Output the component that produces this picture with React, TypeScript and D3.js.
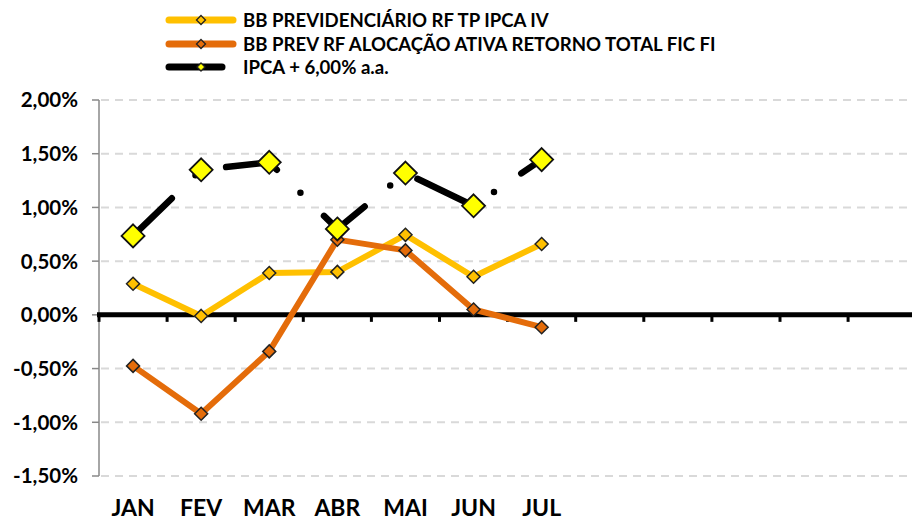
import React from "react";
import * as d3 from "d3";

const monthLabels = ["JAN", "FEV", "MAR", "ABR", "MAI", "JUN", "JUL", "", "", "", "", ""];
const seriesNames = [
  "BB PREVIDENCIÁRIO RF TP IPCA IV",
  "BB PREV RF ALOCAÇÃO ATIVA RETORNO TOTAL FIC FI",
  "IPCA + 6,00% a.a.",
];
const prevIpca = [0.29, -0.01, 0.39, 0.40, 0.745, 0.355, 0.66];
const prevAloc = [-0.475, -0.92, -0.34, 0.70, 0.60, 0.05, -0.115];
const ipcaMeta = [0.735, 1.35, 1.42, 0.80, 1.32, 1.015, 1.445];
const yTicks = [-1.5, -1.0, -0.5, 0, 0.5, 1.0, 1.5, 2.0];

const W = 912;
const H = 521;
const FONT = "Lato, 'Open Sans', sans-serif";

export default function App() {
  const x = d3
    .scaleBand<number>()
    .domain(d3.range(monthLabels.length))
    .range([99, 99 + 68.1 * monthLabels.length]);
  const y = d3.scaleLinear().domain([-1.5, 2]).range([476, 100]);
  const cx = (i: number) => (x(i) as number) + x.bandwidth() / 2;
  const line = d3
    .line<number>()
    .x((_, i) => cx(i))
    .y((d) => y(d));
  const fmt = (v: number) => v.toFixed(2).replace(".", ",") + "%";
  const diamond = (px: number, py: number, r: number) =>
    `M${px},${py - r}L${px + r},${py}L${px},${py + r}L${px - r},${py}Z`;

  const yellow = "#FFC000";
  const orange = "#E46C0A";
  const legendRows = [
    { name: seriesNames[0], color: yellow, fill: yellow, y: 20, x2: 236, mr: 4.5 },
    { name: seriesNames[1], color: orange, fill: orange, y: 44, x2: 236, mr: 4.5 },
    { name: seriesNames[2], color: "#000", fill: "#FFFF00", y: 67, x2: 225, mr: 4 },
  ];

  return (
    <svg
      width={W}
      height={H}
      style={{ position: "absolute", left: 0, top: 0, background: "#fff" }}
      fontFamily={FONT}
    >
      <rect width={W} height={H} fill="#fff" />
      {/* gridlines */}
      {yTicks
        .filter((t) => t !== 0)
        .map((t) => (
          <line
            key={"g" + t}
            x1={101}
            x2={W}
            y1={y(t)}
            y2={y(t)}
            stroke="#D9D9D9"
            strokeWidth={2}
            strokeDasharray="8 6"
          />
        ))}
      {/* y axis */}
      <line x1={99} x2={99} y1={y(2)} y2={y(-1.5)} stroke="#888" strokeWidth={1.5} />
      {yTicks.map((t) => (
        <g key={"t" + t}>
          <line x1={92} x2={99} y1={y(t)} y2={y(t)} stroke="#888" strokeWidth={1.5} />
          <text
            x={78}
            y={y(t)}
            dy="0.36em"
            textAnchor="end"
            fontSize={20.5}
            fontWeight={700}
            fill="#000"
          >
            {fmt(t)}
          </text>
        </g>
      ))}
      {/* x axis at zero */}
      <line x1={97} x2={W} y1={y(0)} y2={y(0)} stroke="#000" strokeWidth={5} />
      {d3.range(monthLabels.length + 1).map((i) => {
        const xx = i < monthLabels.length ? (x(i) as number) : x.range()[1];
        return (
          <line
            key={"xt" + i}
            x1={xx}
            x2={xx}
            y1={y(0)}
            y2={y(0) + 7}
            stroke="#000"
            strokeWidth={3}
          />
        );
      })}
      {monthLabels.map((m, i) =>
        m ? (
          <text
            key={"m" + i}
            x={cx(i)}
            y={516}
            textAnchor="middle"
            fontSize={23}
            fontWeight={700}
            fill="#000"
          >
            {m}
          </text>
        ) : null
      )}
      {/* series lines */}
      <path d={line(prevIpca) || ""} fill="none" stroke={yellow} strokeWidth={6} strokeLinejoin="round" />
      <path d={line(prevAloc) || ""} fill="none" stroke={orange} strokeWidth={6} strokeLinejoin="round" />
      {prevIpca.map((v, i) => (
        <path key={"py" + i} d={diamond(cx(i), y(v), 6.5)} fill={yellow} stroke="#222" strokeWidth={1.5} />
      ))}
      {prevAloc.map((v, i) => (
        <path key={"pa" + i} d={diamond(cx(i), y(v), 6.5)} fill={orange} stroke="#222" strokeWidth={1.5} />
      ))}
      <path
        d={line(ipcaMeta) || ""}
        fill="none"
        stroke="#000"
        strokeWidth={6.5}
        strokeLinecap="round"
        strokeLinejoin="round"
        strokeDasharray="54 33 0 33"
      />
      {ipcaMeta.map((v, i) => (
        <path key={"pi" + i} d={diamond(cx(i), y(v), 11.5)} fill="#FFFF00" stroke="#111" strokeWidth={1.8} />
      ))}
      {/* legend */}
      {legendRows.map((r) => (
        <g key={r.name}>
          <line x1={169} x2={r.x2 - 3} y1={r.y} y2={r.y} stroke={r.color} strokeWidth={7} strokeLinecap="round" />
          <path d={diamond(201, r.y, r.mr)} fill={r.fill} stroke="#222" strokeWidth={1.3} />
          <text x={243} y={r.y} dy="0.36em" fontSize={18.6} fontWeight={700} fill="#000">
            {r.name}
          </text>
        </g>
      ))}
    </svg>
  );
}
